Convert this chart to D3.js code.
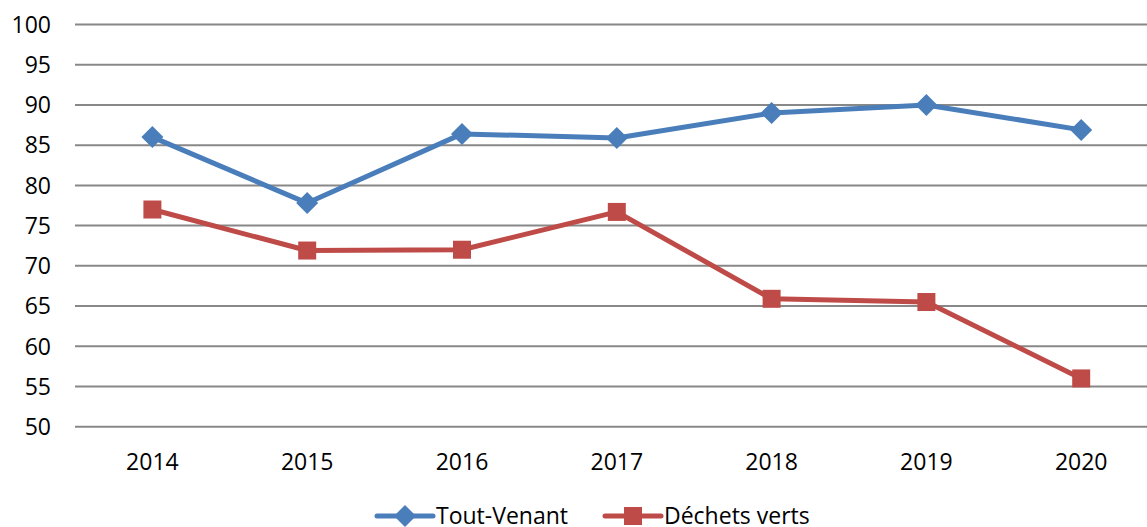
<!DOCTYPE html>
<html>
<head>
<meta charset="utf-8">
<script src="https://cdn.jsdelivr.net/npm/d3@7"></script>
<style>
  body { margin: 0; background: #fff; }
  svg { display: block; font-family: "Open Sans", Lato, sans-serif; }
</style>
</head>
<body>
<div id="chart"></div>
<script>
var years = ["2014", "2015", "2016", "2017", "2018", "2019", "2020"];
var toutVenant = [86, 77.8, 86.4, 85.9, 89, 90, 86.9];
var dechetsVerts = [77, 71.9, 72, 76.7, 65.9, 65.5, 56];
var yTicks = [50, 55, 60, 65, 70, 75, 80, 85, 90, 95, 100];

var width = 1147, height = 527;
var m = {left: 75, top: 24.5, bottom: 100.3};
var fontSize = 23;

var svg = d3.select("#chart").append("svg")
  .attr("width", width)
  .attr("height", height);

var x = d3.scaleBand()
  .domain(years)
  .range([m.left, m.left + 154.8 * years.length]);

var y = d3.scaleLinear()
  .domain([50, 100])
  .range([height - m.bottom, m.top]);

// gridlines
svg.append("g").selectAll("line")
  .data(yTicks)
  .enter().append("line")
  .attr("x1", m.left)
  .attr("x2", width)
  .attr("y1", d => y(d))
  .attr("y2", d => y(d))
  .attr("stroke", "#888")
  .attr("stroke-width", 2);

// y labels
svg.append("g").selectAll("text")
  .data(yTicks)
  .enter().append("text")
  .attr("x", 51)
  .attr("y", d => y(d))
  .attr("dy", "0.36em")
  .attr("text-anchor", "end")
  .attr("font-size", fontSize)
  .attr("fill", "#000")
  .text(d => d);

// x labels
svg.append("g").selectAll("text")
  .data(years)
  .enter().append("text")
  .attr("x", d => x(d) + x.bandwidth() / 2)
  .attr("y", 470)
  .attr("text-anchor", "middle")
  .attr("font-size", fontSize)
  .attr("fill", "#000")
  .text(d => d);

var series = [
  {name: "Tout-Venant", values: toutVenant, color: "#4a7ebb", marker: "diamond"},
  {name: "Déchets verts", values: dechetsVerts, color: "#be4b48", marker: "square"}
];

var line = d3.line()
  .x((d, i) => x(years[i]) + x.bandwidth() / 2)
  .y(d => y(d));

function drawMarker(g, type, color) {
  if (type === "diamond") {
    g.append("path")
      .attr("d", "M0,-11L11,0L0,11L-11,0Z")
      .attr("fill", color);
  } else {
    g.append("rect")
      .attr("x", -9).attr("y", -9)
      .attr("width", 18).attr("height", 18)
      .attr("fill", color);
  }
}

series.forEach(s => {
  svg.append("path")
    .datum(s.values)
    .attr("d", line)
    .attr("fill", "none")
    .attr("stroke", s.color)
    .attr("stroke-width", 5)
    .attr("stroke-linejoin", "round");

  svg.append("g").selectAll("g")
    .data(s.values)
    .enter().append("g")
    .attr("transform", (d, i) => "translate(" + (x(years[i]) + x.bandwidth() / 2) + "," + y(d) + ")")
    .each(function() { drawMarker(d3.select(this), s.marker, s.color); });
});

// legend
var legendX = [377, 605];
series.forEach((s, i) => {
  var g = svg.append("g").attr("transform", "translate(" + legendX[i] + ",516)");
  g.append("line")
    .attr("x1", 0).attr("x2", 56)
    .attr("stroke", s.color)
    .attr("stroke-width", 5)
    .attr("stroke-linecap", "round");
  var mk = g.append("g").attr("transform", "translate(28,0)");
  drawMarker(mk, s.marker, s.color);
  g.append("text")
    .attr("x", 59)
    .attr("y", 0)
    .attr("dy", "0.34em")
    .attr("font-size", fontSize)
    .attr("fill", "#000")
    .text(s.name);
});
</script>
</body>
</html>
